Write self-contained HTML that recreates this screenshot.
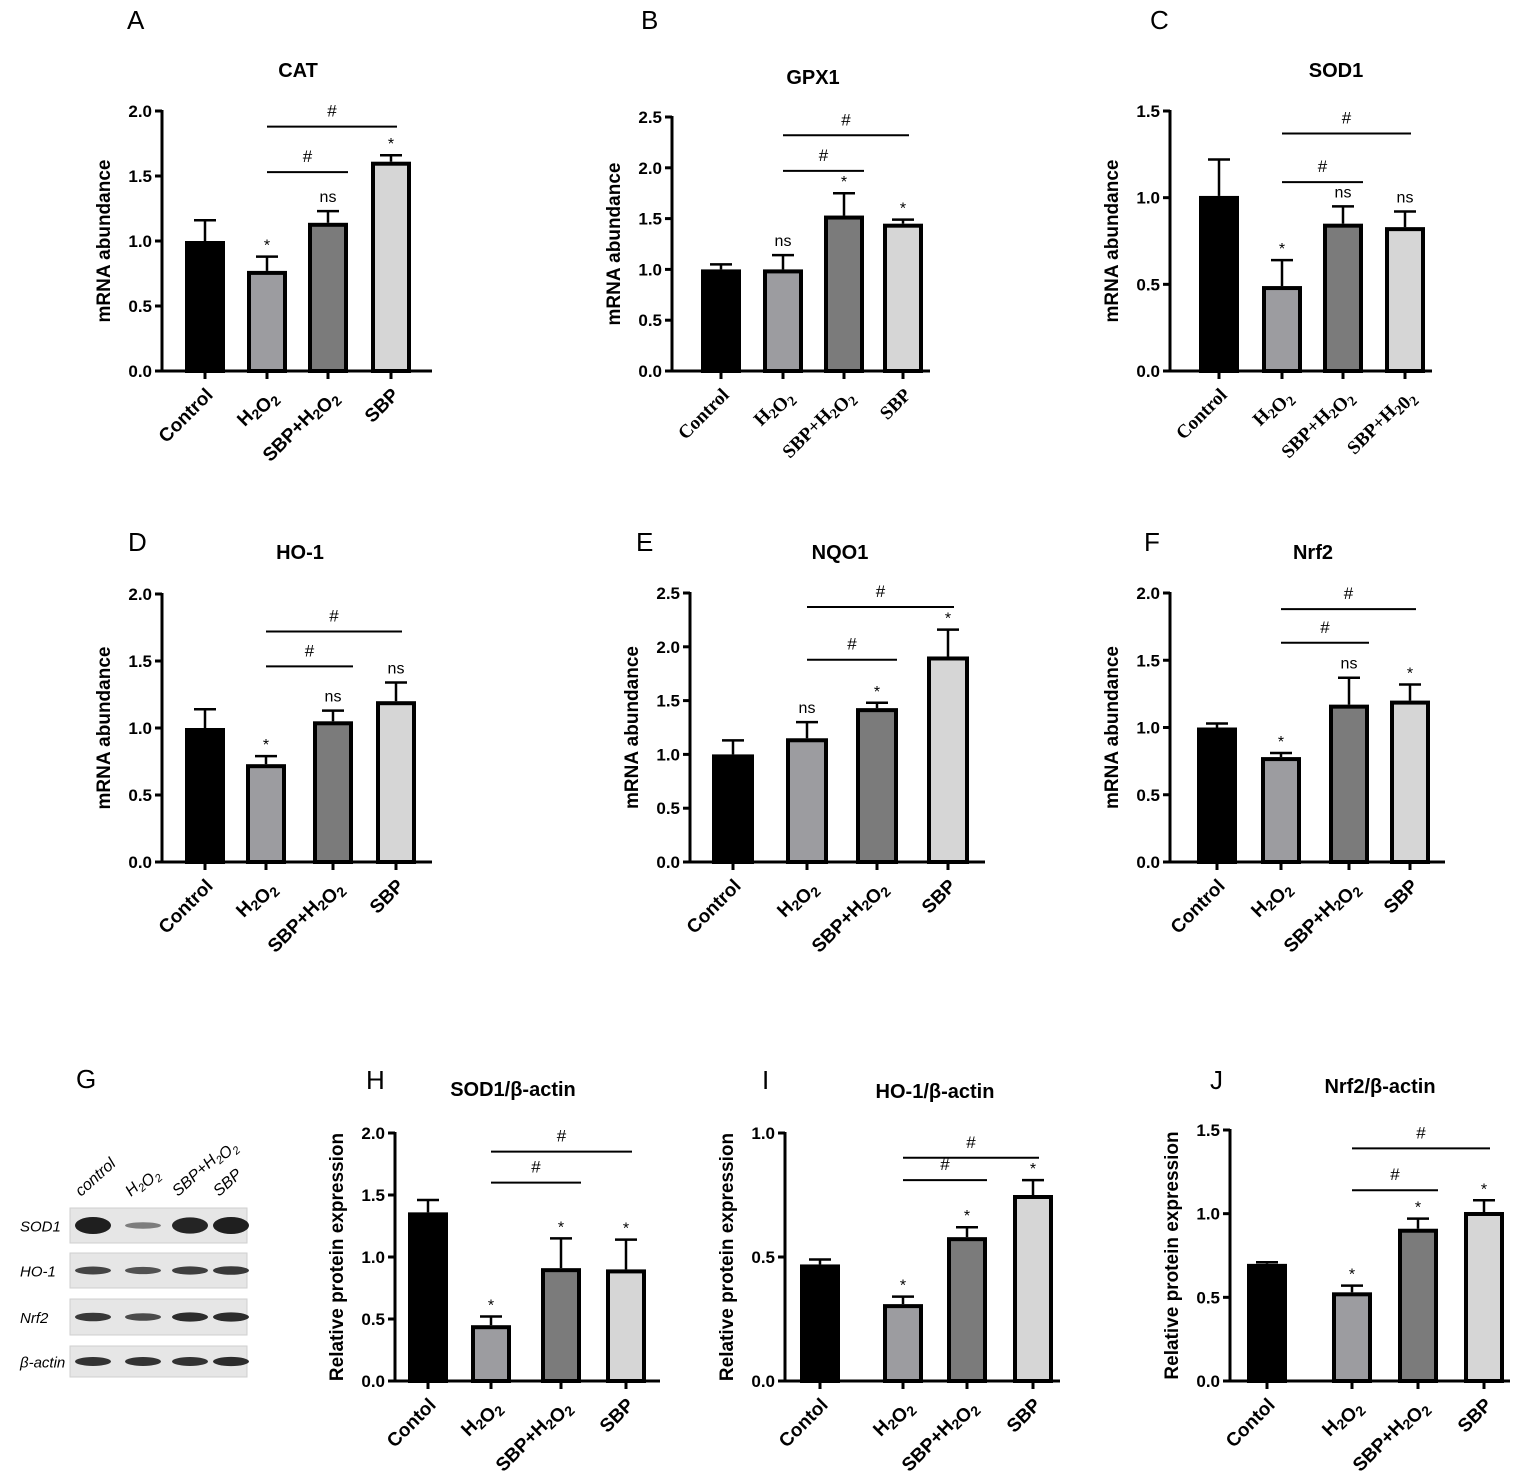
<!DOCTYPE html>
<html><head><meta charset="utf-8"><style>
body{margin:0;background:#fff}
svg{display:block;font-family:"Liberation Sans",sans-serif}
</style></head><body>
<svg id="fig" width="1535" height="1479" viewBox="0 0 1535 1479" xmlns="http://www.w3.org/2000/svg"></svg>
<script>
// ---- data arrays ----
const catValues=[1.0,0.77,1.14,1.61], catErrors=[0.16,0.11,0.09,0.05], catMarks=["","*","ns","*"];
const gpxValues=[1.0,1.0,1.53,1.45], gpxErrors=[0.05,0.14,0.22,0.04], gpxMarks=["","ns","*","*"];
const sodValues=[1.01,0.49,0.85,0.83], sodErrors=[0.21,0.15,0.10,0.09], sodMarks=["","*","ns","ns"];
const hoValues=[1.0,0.73,1.05,1.2], hoErrors=[0.14,0.06,0.08,0.14], hoMarks=["","*","ns","ns"];
const nqoValues=[1.0,1.15,1.43,1.91], nqoErrors=[0.13,0.15,0.05,0.25], nqoMarks=["","ns","*","*"];
const nrfValues=[1.0,0.78,1.17,1.2], nrfErrors=[0.03,0.03,0.2,0.12], nrfMarks=["","*","ns","*"];
const sodPValues=[1.36,0.45,0.91,0.9], sodPErrors=[0.1,0.07,0.24,0.24], sodPMarks=["","*","*","*"];
const hoPValues=[0.47,0.31,0.58,0.75], hoPErrors=[0.02,0.03,0.04,0.06], hoPMarks=["","*","*","*"];
const nrfPValues=[0.7,0.53,0.91,1.01], nrfPErrors=[0.01,0.04,0.06,0.07], nrfPMarks=["","*","*","*"];
const labelsA=["Control","H2O2","SBP+H2O2","SBP"];
const labelsC=["Control","H2O2","SBP+H2O2","SBP+H202"];
const labelsP=["Contol","H2O2","SBP+H2O2","SBP"];
const ticks20=[0,0.5,1.0,1.5,2.0], ticks25=[0,0.5,1.0,1.5,2.0,2.5], ticks15=[0,0.5,1.0,1.5], ticks10=[0,0.5,1.0];
const bracketsA=[[1,2,1.53],[1,3,1.88]], bracketsB=[[1,2,1.97],[1,3,2.32]], bracketsC=[[1,2,1.09],[1,3,1.37]];
const bracketsD=[[1,2,1.46],[1,3,1.72]], bracketsE=[[1,2,1.88],[1,3,2.37]], bracketsF=[[1,2,1.63],[1,3,1.88]];
const bracketsH=[[1,2,1.6],[1,3,1.85]], bracketsI=[[1,2,0.81],[1,3,0.9]], bracketsJ=[[1,2,1.14],[1,3,1.39]];
// ---- layout ----
const fills=["#000","#9c9ca0","#7b7b7b","#d6d6d6"];
const panels=[
 {id:"a",letter:"A",lx:127,ly:28,title:"CAT",tx:298,ty:76,ax:162,y0:371,ytop:111,ymax:2.0,ticks:ticks20,xs:[205,267,328,391],xend:432,v:catValues,e:catErrors,m:catMarks,lab:labelsA,br:bracketsA,yl:"mRNA abundance",bw:40},
 {id:"b",letter:"B",lx:641,ly:28,title:"GPX1",tx:813,ty:83,ax:672,y0:371,ytop:117,ymax:2.5,ticks:ticks25,xs:[721,783,844,903],xend:930,v:gpxValues,e:gpxErrors,m:gpxMarks,lab:labelsA,br:bracketsB,yl:"mRNA abundance",bw:40,serif:true},
 {id:"c",letter:"C",lx:1150,ly:28,title:"SOD1",tx:1336,ty:76,ax:1170,y0:371,ytop:111,ymax:1.5,ticks:ticks15,xs:[1219,1282,1343,1405],xend:1432,v:sodValues,e:sodErrors,m:sodMarks,lab:labelsC,br:bracketsC,yl:"mRNA abundance",bw:40,serif:true},
 {id:"d",letter:"D",lx:128,ly:550,title:"HO-1",tx:300,ty:558,ax:162,y0:862,ytop:594,ymax:2.0,ticks:ticks20,xs:[205,266,333,396],xend:432,v:hoValues,e:hoErrors,m:hoMarks,lab:labelsA,br:bracketsD,yl:"mRNA abundance",bw:40},
 {id:"e",letter:"E",lx:636,ly:550,title:"NQO1",tx:840,ty:558,ax:690,y0:862,ytop:593,ymax:2.5,ticks:ticks25,xs:[733,807,877,948],xend:985,v:nqoValues,e:nqoErrors,m:nqoMarks,lab:labelsA,br:bracketsE,yl:"mRNA abundance",bw:42},
 {id:"f",letter:"F",lx:1144,ly:550,title:"Nrf2",tx:1313,ty:558,ax:1170,y0:862,ytop:593,ymax:2.0,ticks:ticks20,xs:[1217,1281,1349,1410],xend:1445,v:nrfValues,e:nrfErrors,m:nrfMarks,lab:labelsA,br:bracketsF,yl:"mRNA abundance",bw:40},
 {id:"h",letter:"H",lx:366,ly:1088,title:"SOD1/β-actin",tx:513,ty:1095,ax:395,y0:1381,ytop:1133,ymax:2.0,ticks:ticks20,xs:[428,491,561,626],xend:660,v:sodPValues,e:sodPErrors,m:sodPMarks,lab:labelsP,br:bracketsH,yl:"Relative protein expression",bw:40},
 {id:"i",letter:"I",lx:762,ly:1088,title:"HO-1/β-actin",tx:935,ty:1097,ax:785,y0:1381,ytop:1133,ymax:1.0,ticks:ticks10,xs:[820,903,967,1033],xend:1060,v:hoPValues,e:hoPErrors,m:hoPMarks,lab:labelsP,br:bracketsI,yl:"Relative protein expression",bw:40},
 {id:"j",letter:"J",lx:1210,ly:1088,title:"Nrf2/β-actin",tx:1380,ty:1092,ax:1230,y0:1381,ytop:1130,ymax:1.5,ticks:ticks15,xs:[1267,1352,1418,1484],xend:1510,v:nrfPValues,e:nrfPErrors,m:nrfPMarks,lab:labelsP,br:bracketsJ,yl:"Relative protein expression",bw:40}
];
const NS="http://www.w3.org/2000/svg";
const svg=document.getElementById("fig");
function mk(tag,attrs,parent){const el=document.createElementNS(NS,tag);for(const k in attrs)el.setAttribute(k,attrs[k]);(parent||svg).appendChild(el);return el;}
function subLabel(t,s,sz){
  const parts=s.split(/(\d)/);
  parts.forEach(p=>{if(!p)return;const ts=mk("tspan",{},t);
    if(/\d/.test(p)&&!(s==="SBP+H202"&&p==="0")){ts.setAttribute("font-size",String(sz||13));ts.setAttribute("dy","4");ts.textContent=p;
      const back=mk("tspan",{dy:"-4"},t);back.textContent="";}
    else ts.textContent=p;});
}
panels.forEach(p=>{
  const g=mk("g",{});
  
  
  const Y=v=>p.y0-(v/p.ymax)*(p.y0-p.ytop);
  const L=mk("text",{x:p.lx,y:p.ly+1,"font-size":"26"},g);L.textContent=p.letter;
  
  
  const T=mk("text",{x:p.tx,y:p.ty+1,"font-size":"20","font-weight":"bold","text-anchor":"middle"},g);T.textContent=p.title;
  
  
  const ya=mk("line",{x1:p.ax,y1:p.ytop-1,x2:p.ax,y2:p.y0+1,stroke:"#000","stroke-width":"3"},g);
  
  
  const xa=mk("line",{x1:p.ax,y1:p.y0,x2:p.xend,y2:p.y0,stroke:"#000","stroke-width":"3"},g);
  
  
  p.ticks.forEach(t=>{
    mk("line",{x1:p.ax-7,y1:Y(t),x2:p.ax,y2:Y(t),stroke:"#000","stroke-width":"3"},g);
    const tl=mk("text",{x:p.ax-10,y:Y(t)+6,"font-size":"17","font-weight":"bold","text-anchor":"end"},g);
    tl.textContent=t.toFixed(1);
    
    
  });
  const ymid=(p.y0+p.ytop)/2;
  const yl=mk("text",{x:p.ax-52,y:ymid,"font-size":"19","font-weight":"bold","text-anchor":"middle",transform:`rotate(-90 ${p.ax-52} ${ymid})`},g);
  yl.textContent=p.yl;
  
  
  p.v.forEach((v,i)=>{
    const cx=p.xs[i],top=Y(v),hw=p.bw/2;
    const er=Y(v+p.e[i]);
    mk("line",{x1:cx,y1:top,x2:cx,y2:er,stroke:"#000","stroke-width":"2.5"},g);
    mk("line",{x1:cx-11,y1:er,x2:cx+11,y2:er,stroke:"#000","stroke-width":"2.5"},g);
    const b=mk("rect",{x:cx-hw+2,y:top+2,width:p.bw-4,height:p.y0-top-2,fill:fills[i],stroke:"#000","stroke-width":"4"},g);
    
    
    mk("line",{x1:cx,y1:p.y0,x2:cx,y2:p.y0+8,stroke:"#000","stroke-width":"3"},g);
    if(p.m[i]){const mt=mk("text",{x:cx,y:er-(p.m[i]==="*"?6:9),"font-size":"16","text-anchor":"middle"},g);mt.textContent=p.m[i];
      
      }
    const lx=cx+9,ly=p.y0+25;
    const xl=mk("text",{x:lx,y:ly,"font-size":"19","font-weight":"bold","text-anchor":"end",transform:`rotate(-45 ${lx} ${ly})`},g);
    if(p.serif)xl.setAttribute("font-family","Liberation Serif, serif");
    subLabel(xl,p.lab[i],14);
    
    
  });
  p.br.forEach(br=>{
    const y=Y(br[2]),x1=p.xs[br[0]],x2=p.xs[br[1]]+(br[1]===3?6:20);
    const bl=mk("line",{x1:x1,y1:y,x2:x2,y2:y,stroke:"#000","stroke-width":"2"},g);
    
    
    const h=mk("text",{x:(x1+x2)/2,y:y-10,"font-size":"17","text-anchor":"middle"},g);h.textContent="#";
    
    
  });
});
// ---- western blot ----
const blotRows=["SOD1","HO-1","Nrf2","β-actin"];
const blotLanes=["control","H2O2","SBP+H2O2","SBP"];
const blotIntensity=[[1,0.25,0.95,1],[0.7,0.6,0.75,0.8],[0.8,0.65,0.9,0.9],[0.85,0.85,0.85,0.9]];
const wb=mk("g",{});


const G=mk("text",{x:76,y:1088,"font-size":"26"},wb);G.textContent="G";
const rowY=[1208,1253,1299,1346],rowH=[35,35,36,31],laneX=[93,143,190,231];
blotLanes.forEach((l,i)=>{
  const x=laneX[i]-12,y=1197;
  const t=mk("text",{x:x,y:y,"font-size":"16","font-style":"italic",transform:`rotate(-42 ${x} ${y})`},wb);
  subLabel(t,l,11);
  
  
});
blotRows.forEach((r,ri)=>{
  const t=mk("text",{x:20,y:rowY[ri]+rowH[ri]/2+6,"font-size":"15","font-style":"italic"},wb);t.textContent=r;
  
  
  mk("rect",{x:70,y:rowY[ri],width:177,height:rowH[ri],fill:"#e6e6e6",stroke:"#cfcfcf","stroke-width":"1"},wb);
  blotIntensity[ri].forEach((v,li)=>{
    const h=ri===0?14*v+3:7*v+3;
    const e=mk("ellipse",{cx:laneX[li],cy:rowY[ri]+rowH[ri]/2,rx:18,ry:h/2,fill:`rgba(20,20,20,${0.35+0.6*v})`},wb);
    
    
  });
});
</script>
</body></html>
